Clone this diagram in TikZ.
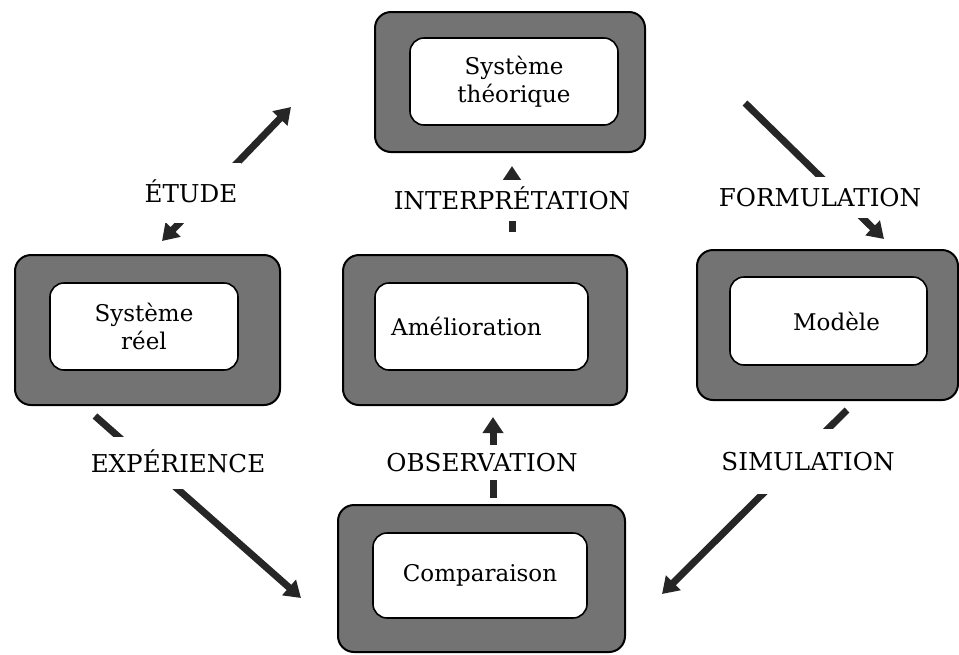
\documentclass[tikz,border=0pt]{standalone}
\usepackage{fontspec}
\setmainfont{DejaVu Serif}
\usetikzlibrary{arrows.meta,positioning}

\begin{document}
\begin{tikzpicture}[x=0.5pt, y=-0.5pt,
    framebox/.style={draw=black, line width=1pt, fill=black!55, rounded corners=8pt},
    innerbox/.style={draw=black, line width=0.8pt, fill=white, rounded corners=7pt, align=center, inner sep=0pt, font=\fontsize{11.5}{14}\selectfont},
    lbl/.style={fill=white, font=\fontsize{12.3}{14}\selectfont, text height=9pt, text depth=0pt, inner xsep=2pt},
    tip/.style={Triangle[length=8pt, width=10pt]},
    arr/.style={line width=3.5pt, draw=black!85, -{Triangle[length=8pt, width=10pt]}}
]
\useasboundingbox (0,0) rectangle (959,654);

% Systeme theorique
\node[framebox, minimum width=135pt, minimum height=70pt] (theoF) at (510,82) {};
\node[innerbox, minimum width=104pt, minimum height=43.5pt] (theo) at (514,81.5) {Système\\théorique};

% Systeme reel
\node[framebox, minimum width=132.5pt, minimum height=75pt] (reelF) at (147.5,330) {};
\node[innerbox, minimum width=94pt, minimum height=43.5pt] (reel) at (144,326.5) {Système\\réel};

% Amelioration
\node[framebox, minimum width=142pt, minimum height=75pt] (amelF) at (485,330) {};
\node[innerbox, minimum width=106.5pt, minimum height=43.5pt] (amel) at (481.5,326.5) {Amélioration\hspace*{15pt}};

% Modele
\node[framebox, minimum width=130.5pt, minimum height=75pt] (modF) at (827.5,325) {};
\node[innerbox, minimum width=98.5pt, minimum height=44pt] (mod) at (828.5,321) {\hspace*{8pt}Modèle};

% Comparaison
\node[framebox, minimum width=143.5pt, minimum height=73.5pt] (compF) at (481.5,578.5) {};
\node[innerbox, minimum width=107pt, minimum height=42.5pt] (comp) at (480,575.5) {Comparaison};

% connector ends
\coordinate (etudeA) at (162,241);
\coordinate (etudeB) at (291,107);
\coordinate (interA) at (512,232);
\coordinate (interB) at (512,166);
\coordinate (formA) at (745,103);
\coordinate (formB) at (884,239);
\coordinate (expA) at (95,416);
\coordinate (expB) at (301,598);
\coordinate (obsA) at (493,498);
\coordinate (obsB) at (493,417);
\coordinate (simA) at (847,410);
\coordinate (simB) at (662,594);

% arrows
\draw[arr, {Triangle[length=8pt, width=10pt]}-{Triangle[length=8pt, width=10pt]}] (etudeA) -- (etudeB);
\draw[arr] (interA) -- (interB);
\draw[arr] (formA) -- (formB);
\draw[arr] (expA) -- (expB);
\draw[arr] (obsA) -- (obsB);
\draw[arr] (simA) -- (simB);

% labels
\node[lbl, inner ysep=10.5pt] (etude) at (191,193) {ÉTUDE};
\node[lbl, inner ysep=5.75pt] (inter) at (512,200) {INTERPRÉTATION};
\node[lbl, inner ysep=5.75pt] (form) at (820,197) {FORMULATION};
\node[lbl, inner ysep=8.5pt] (exp) at (178,463) {EXPÉRIENCE};
\node[lbl, inner ysep=4.25pt] (obs) at (482,462) {OBSERVATION};
\node[lbl, inner ysep=11.75pt] (sim) at (808,461) {SIMULATION};

\end{tikzpicture}
\end{document}
